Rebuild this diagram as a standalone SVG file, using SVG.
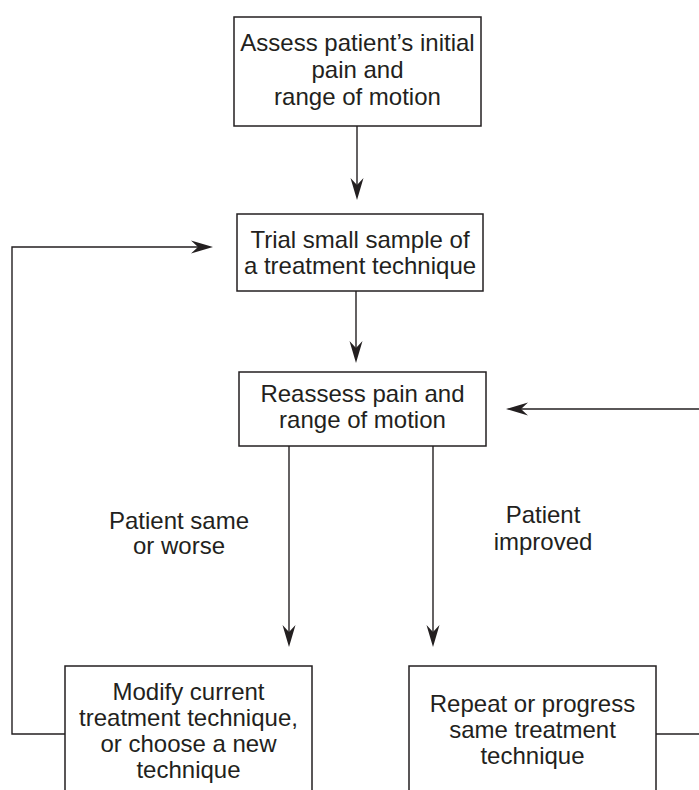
<svg xmlns="http://www.w3.org/2000/svg" width="699" height="790" viewBox="0 0 699 790">
<style>
.box{fill:#fff;stroke:#231f20;stroke-width:1.5}
.t{font-family:"Liberation Sans",Arial,sans-serif;font-size:24px;fill:#231f20;text-anchor:middle}
.c{fill:none;stroke:#231f20;stroke-width:1.4}
.ca{fill:none;stroke:#231f20;stroke-width:1.4;marker-end:url(#ah)}
</style>
<defs>
<marker id="ah" markerUnits="userSpaceOnUse" viewBox="-14 -7 26 14" refX="0" refY="0" markerWidth="26" markerHeight="14" orient="auto">
<path d="M10,0 L-12,-6.5 L-5,0 L-12,6.5 Z" fill="#231f20"/>
</marker>
</defs>
<rect width="699" height="790" fill="#fff"/>
<g id="connectors">
<path class="ca" d="M357,126 V190"/>
<path class="ca" d="M356,291 V353"/>
<path class="ca" d="M289,446 V637"/>
<path class="ca" d="M433,446 V637"/>
<path class="ca" d="M65,734 H12 V247 H203"/>
<path class="ca" d="M700,409 H516"/>
<path class="c" d="M656,734 H700"/>
</g>
<g id="n1">
<rect class="box" x="234" y="17" width="247" height="109"/>
<text class="t" x="357.5" y="51">Assess patient’s initial</text>
<text class="t" x="357.5" y="78">pain and</text>
<text class="t" x="357.5" y="105">range of motion</text>
</g>
<g id="n2">
<rect class="box" x="237" y="214" width="246" height="77"/>
<text class="t" x="360" y="248">Trial small sample of</text>
<text class="t" x="360" y="274">a treatment technique</text>
</g>
<g id="n3">
<rect class="box" x="239" y="372" width="247" height="74"/>
<text class="t" x="362.5" y="402">Reassess pain and</text>
<text class="t" x="362.5" y="428">range of motion</text>
</g>
<g id="label-same">
<text class="t" x="179" y="529">Patient same</text>
<text class="t" x="179" y="554">or worse</text>
</g>
<g id="label-improved">
<text class="t" x="543" y="523">Patient</text>
<text class="t" x="543" y="550">improved</text>
</g>
<g id="n4">
<rect class="box" x="65" y="666" width="247" height="140"/>
<text class="t" x="188.5" y="700">Modify current</text>
<text class="t" x="188.5" y="726">treatment technique,</text>
<text class="t" x="188.5" y="752">or choose a new</text>
<text class="t" x="188.5" y="778">technique</text>
</g>
<g id="n5">
<rect class="box" x="409" y="666" width="247" height="140"/>
<text class="t" x="532.5" y="712">Repeat or progress</text>
<text class="t" x="532.5" y="738">same treatment</text>
<text class="t" x="532.5" y="764">technique</text>
</g>
</svg>
